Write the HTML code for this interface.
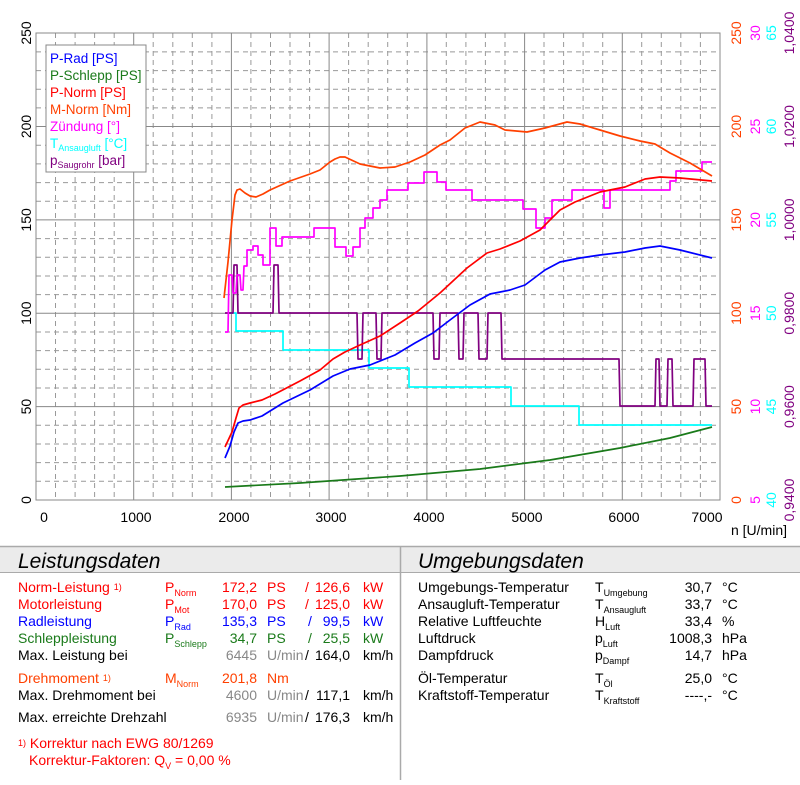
<!DOCTYPE html>
<html><head><meta charset="utf-8"><style>
body{margin:0;background:#fff;width:800px;height:780px;overflow:hidden;font-family:"Liberation Sans",Arial,sans-serif}
</style></head><body>
<svg width="800" height="780" xmlns="http://www.w3.org/2000/svg" font-family="Liberation Sans, Arial, sans-serif">
<g id="grid" stroke="#999" stroke-width="1" fill="none">
<g stroke-dasharray="5,4">
<path d="M55.5 33V500M75.1 33V500M94.6 33V500M114.2 33V500M153.2 33V500M172.8 33V500M192.3 33V500M211.9 33V500M250.9 33V500M270.5 33V500M290 33V500M309.6 33V500M348.6 33V500M368.2 33V500M387.7 33V500M407.3 33V500M446.3 33V500M465.9 33V500M485.4 33V500M505 33V500M544 33V500M563.6 33V500M583.1 33V500M602.7 33V500M641.7 33V500M661.3 33V500M680.8 33V500M700.4 33V500"/>
<path d="M36 481.3H720M36 462.6H720M36 444H720M36 425.3H720M36 388H720M36 369.3H720M36 350.6H720M36 332H720M36 294.6H720M36 276H720M36 257.3H720M36 238.6H720M36 201.3H720M36 182.6H720M36 163.9H720M36 145.3H720M36 107.9H720M36 89.3H720M36 70.6H720M36 51.9H720"/>
</g>
<path stroke="#888" d="M133.7 33V500M231.4 33V500M329.1 33V500M426.9 33V500M524.6 33V500M622.3 33V500M36 406.6H720M36 313.2H720M36 219.9H720M36 126.5H720"/>
<rect x="36" y="33" width="684" height="467" stroke="#888"/>
</g>
<g fill="none" stroke-width="1.7" stroke-linejoin="round">
<polyline stroke="#1a7a1a" points="225,487 300,483 400,476 480,469 550,460 620,448 670,438 712,427"/>
<polyline stroke="#00ffff" points="228,313 236,313 236,331 283,331 283,350 369,350 369,368 409,368 409,387 511,387 511,406 579,406 579,425 712,425"/>
<polyline stroke="#800080" points="225,313 233,313 234,265 237,265 238,313 273,313 274,265 278,265 279,313 357,313 358,359 362,359 363,313 376,313 377,359 381,359 382,313 433,313 434,359 439,359 440,313 458,313 459,359 463,359 464,313 478,313 479,359 487,359 488,313 501,313 502,359 619,359 620,406 655,406 656,359 659,359 660,406 667,406 668,359 672,359 673,406 693,406 694,359 705,359 706,406 712,406"/>
<polyline stroke="#ff00ff" points="225,332 228,332 229,275 232,275 233,293 236,293 237,275 240,275 241,290 243,290 244,266 247,266 247,250 253,250 253,246 258,246 258,255 263,255 263,265 270,265 270,228 276,228 276,246 282,246 282,237 314,237 314,228 335,228 335,247 346,247 346,256 353,256 353,247 360,247 360,228 365,228 365,218 373,218 373,208 380,208 380,200 387,200 387,190 408,190 408,183 424,183 424,172 437,172 437,182 446,182 446,190 472,190 472,200 523,200 523,209 536,209 536,228 545,228 545,218 552,218 552,200 572,200 572,190 604,190 604,208 610,208 610,190 670,190 670,181 676,181 676,171 702,171 702,162 712,162"/>
<polyline stroke="#ff4000" points="224,298 228,262 232,220 235,195 237,190 240,189 245,193 250,196 256,197 263,194 270,190 290,181 310,174 320,170 330,162 335,159 340,157 345,157 360,164 380,168 395,167 410,162 425,155 440,145 450,140 465,128 480,122 495,125 505,130 527,132 545,128 567,122 580,124 600,130 620,136 640,141 655,144 670,153 690,163 712,176"/>
<polyline stroke="#ff0000" points="225,447 232,432 236,418 239,408 243,405 250,403 262,400 275,394 300,381 320,370 333,359 345,352 360,345 380,336 400,323 418,311 440,293 467,268 487,253 500,249 520,241 540,230 560,210 575,202 600,192 625,187 645,179 660,177 680,178 712,181"/>
<polyline stroke="#0000ff" points="225,458 230,446 234,432 238,423 243,421 250,420 262,416 283,403 310,390 333,376 350,369 370,365 395,355 415,343 433,333 450,320 470,305 490,294 510,290 525,285 545,270 560,262 580,258 600,255 625,252 645,248 660,246 680,250 712,258"/>
</g>
<rect x="46" y="45" width="100" height="127" fill="#fff" stroke="#888"/>
<g font-size="13.5">
<text x="50" y="63" fill="#0000ff">P-Rad [PS]</text>
<text x="50" y="80" fill="#1a7a1a">P-Schlepp [PS]</text>
<text x="50" y="97" fill="#ff0000">P-Norm [PS]</text>
<text x="50" y="114" fill="#ff4000">M-Norm [Nm]</text>
<text x="50" y="131" fill="#ff00ff">Zündung [°]</text>
<text x="50" y="148" fill="#00ffff">T<tspan font-size="9" dy="3">Ansaugluft</tspan><tspan dy="-3"> [°C]</tspan></text>
<text x="50" y="165" fill="#800080">p<tspan font-size="9" dy="3">Saugrohr</tspan><tspan dy="-3"> [bar]</tspan></text>
</g>
<g font-size="14" fill="#000" text-anchor="middle">
<text transform="translate(31,500) rotate(-90)">0</text>
<text transform="translate(31,406.6) rotate(-90)">50</text>
<text transform="translate(31,313.2) rotate(-90)">100</text>
<text transform="translate(31,219.9) rotate(-90)">150</text>
<text transform="translate(31,126.5) rotate(-90)">200</text>
<text transform="translate(31,33) rotate(-90)">250</text>
<text x="44" y="522">0</text><text x="136" y="522">1000</text><text x="234" y="522">2000</text><text x="331" y="522">3000</text><text x="429" y="522">4000</text><text x="527" y="522">5000</text><text x="624" y="522">6000</text><text x="707" y="522">7000</text>
<text x="759" y="535">n [U/min]</text>
</g>
<g font-size="14" text-anchor="middle">
<g fill="#ff4000">
<text transform="translate(741,500) rotate(-90)">0</text><text transform="translate(741,406.6) rotate(-90)">50</text><text transform="translate(741,313.2) rotate(-90)">100</text><text transform="translate(741,219.9) rotate(-90)">150</text><text transform="translate(741,126.5) rotate(-90)">200</text><text transform="translate(741,33) rotate(-90)">250</text></g>
<g fill="#ff00ff">
<text transform="translate(760,500) rotate(-90)">5</text><text transform="translate(760,406.6) rotate(-90)">10</text><text transform="translate(760,313.2) rotate(-90)">15</text><text transform="translate(760,219.9) rotate(-90)">20</text><text transform="translate(760,126.5) rotate(-90)">25</text><text transform="translate(760,33) rotate(-90)">30</text></g>
<g fill="#00ffff">
<text transform="translate(776,500) rotate(-90)">40</text><text transform="translate(776,406.6) rotate(-90)">45</text><text transform="translate(776,313.2) rotate(-90)">50</text><text transform="translate(776,219.9) rotate(-90)">55</text><text transform="translate(776,126.5) rotate(-90)">60</text><text transform="translate(776,33) rotate(-90)">65</text></g>
<g fill="#800080">
<text transform="translate(794,500) rotate(-90)">0,9400</text><text transform="translate(794,406.6) rotate(-90)">0,9600</text><text transform="translate(794,313.2) rotate(-90)">0,9800</text><text transform="translate(794,219.9) rotate(-90)">1,0000</text><text transform="translate(794,126.5) rotate(-90)">1,0200</text><text transform="translate(794,33) rotate(-90)">1,0400</text></g>
</g>
<rect x="0" y="546" width="800" height="26" fill="#ebebeb"/>
<line x1="0" y1="546.5" x2="800" y2="546.5" stroke="#aaa" stroke-width="1.5"/>
<line x1="0" y1="572.5" x2="800" y2="572.5" stroke="#aaa"/>
<line x1="400.5" y1="546" x2="400.5" y2="780" stroke="#aaa" stroke-width="1.5"/>
<g font-size="21" font-style="italic" fill="#000">
<text x="18" y="568">Leistungsdaten</text>
<text x="418" y="568">Umgebungsdaten</text>
</g>
<g font-size="14">
<g fill="#ff0000"><text x="18" y="592">Norm-Leistung <tspan font-size="9" dy="-2">1)</tspan></text>
<text x="165" y="592">P<tspan font-size="9" dy="4">Norm</tspan></text><text x="257" y="592" text-anchor="end">172,2</text><text x="267" y="592">PS</text><text x="305" y="592">/</text><text x="350" y="592" text-anchor="end">126,6</text><text x="363" y="592">kW</text>
<text x="18" y="609">Motorleistung</text><text x="165" y="609">P<tspan font-size="9" dy="4">Mot</tspan></text><text x="257" y="609" text-anchor="end">170,0</text><text x="267" y="609">PS</text><text x="305" y="609">/</text><text x="350" y="609" text-anchor="end">125,0</text><text x="363" y="609">kW</text></g>
<g fill="#0000ff"><text x="18" y="626">Radleistung</text><text x="165" y="626">P<tspan font-size="9" dy="4">Rad</tspan></text><text x="257" y="626" text-anchor="end">135,3</text><text x="267" y="626">PS</text><text x="308" y="626">/</text><text x="350" y="626" text-anchor="end">99,5</text><text x="363" y="626">kW</text></g>
<g fill="#1a7a1a"><text x="18" y="643">Schleppleistung</text><text x="165" y="643">P<tspan font-size="9" dy="4">Schlepp</tspan></text><text x="257" y="643" text-anchor="end">34,7</text><text x="267" y="643">PS</text><text x="308" y="643">/</text><text x="350" y="643" text-anchor="end">25,5</text><text x="363" y="643">kW</text></g>
<g fill="#000"><text x="18" y="660">Max. Leistung bei</text><text x="257" y="660" text-anchor="end" fill="#888">6445</text><text x="267" y="660" fill="#888">U/min</text><text x="305" y="660">/</text><text x="350" y="660" text-anchor="end">164,0</text><text x="363" y="660">km/h</text></g>
<g fill="#ff4000"><text x="18" y="683">Drehmoment <tspan font-size="9" dy="-2">1)</tspan></text><text x="165" y="683">M<tspan font-size="9" dy="4">Norm</tspan></text><text x="257" y="683" text-anchor="end">201,8</text><text x="267" y="683">Nm</text></g>
<g fill="#000"><text x="18" y="700">Max. Drehmoment bei</text><text x="257" y="700" text-anchor="end" fill="#888">4600</text><text x="267" y="700" fill="#888">U/min</text><text x="305" y="700">/</text><text x="350" y="700" text-anchor="end">117,1</text><text x="363" y="700">km/h</text>
<text x="18" y="722">Max. erreichte Drehzahl</text><text x="257" y="722" text-anchor="end" fill="#888">6935</text><text x="267" y="722" fill="#888">U/min</text><text x="305" y="722">/</text><text x="350" y="722" text-anchor="end">176,3</text><text x="363" y="722">km/h</text></g>
<g fill="#ff0000"><text x="18" y="748"><tspan font-size="9" dy="-2">1)</tspan><tspan dy="2"> Korrektur nach EWG 80/1269</tspan></text>
<text x="29" y="765">Korrektur-Faktoren: Q<tspan font-size="9" dy="4">V</tspan><tspan dy="-4"> =   0,00 %</tspan></text></g>
<g fill="#000">
<text x="418" y="592">Umgebungs-Temperatur</text><text x="595" y="592">T<tspan font-size="9" dy="4">Umgebung</tspan></text><text x="712" y="592" text-anchor="end">30,7</text><text x="722" y="592">°C</text>
<text x="418" y="609">Ansaugluft-Temperatur</text><text x="595" y="609">T<tspan font-size="9" dy="4">Ansaugluft</tspan></text><text x="712" y="609" text-anchor="end">33,7</text><text x="722" y="609">°C</text>
<text x="418" y="626">Relative Luftfeuchte</text><text x="595" y="626">H<tspan font-size="9" dy="4">Luft</tspan></text><text x="712" y="626" text-anchor="end">33,4</text><text x="722" y="626">%</text>
<text x="418" y="643">Luftdruck</text><text x="595" y="643">p<tspan font-size="9" dy="4">Luft</tspan></text><text x="712" y="643" text-anchor="end">1008,3</text><text x="722" y="643">hPa</text>
<text x="418" y="660">Dampfdruck</text><text x="595" y="660">p<tspan font-size="9" dy="4">Dampf</tspan></text><text x="712" y="660" text-anchor="end">14,7</text><text x="722" y="660">hPa</text>
<text x="418" y="683">Öl-Temperatur</text><text x="595" y="683">T<tspan font-size="9" dy="4">Öl</tspan></text><text x="712" y="683" text-anchor="end">25,0</text><text x="722" y="683">°C</text>
<text x="418" y="700">Kraftstoff-Temperatur</text><text x="595" y="700">T<tspan font-size="9" dy="4">Kraftstoff</tspan></text><text x="712" y="700" text-anchor="end">----,-</text><text x="722" y="700">°C</text>
</g>
</g>
</svg>
</body></html>
